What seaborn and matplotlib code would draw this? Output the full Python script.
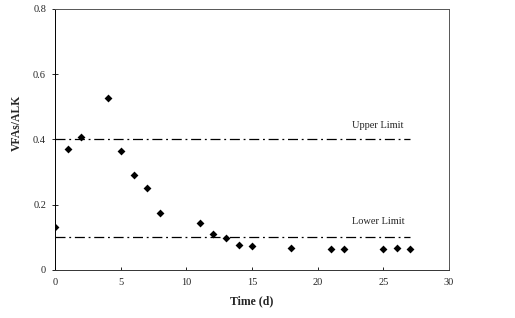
import numpy as np
import pandas as pd
import seaborn as sns
import matplotlib.pyplot as plt

# VFAs/ALK ratio over time
days = [0, 1, 2, 4, 5, 6, 7, 8, 11, 12, 13, 14, 15, 18, 21, 22, 25, 26, 27]
ratio = [0.131, 0.371, 0.409, 0.528, 0.366, 0.291, 0.250, 0.174, 0.144, 0.109,
         0.099, 0.076, 0.072, 0.068, 0.063, 0.064, 0.065, 0.067, 0.065]
upper_limit = 0.4
lower_limit = 0.1
limit_span = [0, 27]

df = pd.DataFrame({'Time': days, 'Ratio': ratio})

sns.set_style('white')
plt.rcParams['font.family'] = ['Liberation Serif', 'DejaVu Serif']

fig = plt.figure(figsize=(5.15, 3.18), dpi=100)
ax = fig.add_axes([0.107, 0.151, 0.765, 0.821])

sns.scatterplot(data=df, x='Time', y='Ratio', marker='D', color='black',
                s=16, edgecolor='black', linewidth=0, ax=ax, zorder=3)

for lim in [upper_limit, lower_limit]:
    ax.plot(limit_span, [lim, lim], color='black', linestyle=(0, (8, 3, 1.5, 3)), linewidth=0.9)

ax.text(24.6, 0.442, 'Upper Limit', fontsize=7.5, ha='center', va='center')
ax.text(24.6, 0.150, 'Lower Limit', fontsize=7.5, ha='center', va='center')

ax.set_xlim(0, 30)
ax.set_ylim(0, 0.8)
ax.set_xticks([0, 5, 10, 15, 20, 25, 30])
ax.set_yticks([0, 0.2, 0.4, 0.6, 0.8])
ax.set_yticklabels(['0', '0.2', '0.4', '0.6', '0.8'])
ax.tick_params(axis='both', labelsize=7.5, width=0.6, color='black')
ax.tick_params(axis='x', bottom=True, direction='in', length=2.5, pad=6)
ax.tick_params(axis='y', left=True, direction='inout', length=5, pad=4)

for sp in ax.spines.values():
    sp.set_color('#555555')
    sp.set_linewidth(0.7)
ax.spines['left'].set_color('black')
ax.spines['bottom'].set_color('#333333')

ax.set_xlabel('Time (d)', fontsize=8.5, fontweight='bold', labelpad=6)
ax.set_ylabel('VFAs/ALK', fontsize=8.5, fontweight='bold')
ax.yaxis.set_label_coords(-0.082, 0.563)

fig.savefig('out.png', dpi=100)
